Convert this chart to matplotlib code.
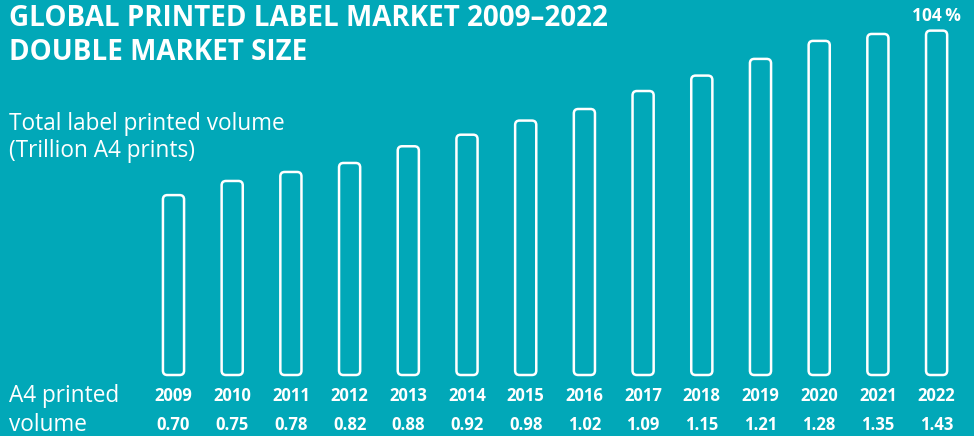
# global printed label market, outlined bars on teal

import matplotlib
matplotlib.use('Agg')
import matplotlib.pyplot as plt
from matplotlib.patches import FancyBboxPatch

years = ['2009', '2010', '2011', '2012', '2013', '2014', '2015',
         '2016', '2017', '2018', '2019', '2020', '2021', '2022']
volume = [0.70, 0.75, 0.78, 0.82, 0.88, 0.92, 0.98,
          1.02, 1.09, 1.15, 1.21, 1.28, 1.35, 1.43]
# bar heights as drawn in the picture (last bars are squeezed under the title)
drawn = [0.70, 0.755, 0.79, 0.825, 0.89, 0.935, 0.99,
         1.035, 1.105, 1.165, 1.23, 1.30, 1.327, 1.34]
growth_label = '104\u2009%'

bg = '#01a8b8'
fg = 'white'
W, H = 974, 436

fig = plt.figure(figsize=(W / 100, H / 100), dpi=100, facecolor=bg)

# axes placed so bar centres / baseline land where the reference has them
x0, step = 173.5, 58.7
base_px, px_per_unit = 375, 257
left = x0 - step / 2
ax = fig.add_axes([left / W, (H - base_px) / H, (14 * step) / W, 1.45 * px_per_unit / H])
ax.set_facecolor(bg)
ax.set_xlim(-0.5, 13.5)
ax.set_ylim(0, 1.45)
ax.axis('off')

bars = ax.bar(range(len(years)), drawn, width=0.36, fill=False)
aspect = (1 / px_per_unit) / (1 / step)
for b in bars:
    x, y = b.get_x(), b.get_y()
    w, h = b.get_width(), b.get_height()
    b.remove()
    ax.add_patch(FancyBboxPatch((x, y), w, h,
                                boxstyle='round,pad=0,rounding_size=0.075',
                                mutation_aspect=aspect, fill=False,
                                edgecolor=fg, linewidth=1.8, clip_on=False))

ax.annotate(growth_label, (13, drawn[-1]), xytext=(0, 4), textcoords='offset points',
            ha='center', va='bottom', color=fg, fontsize=12.5,
            fontweight='bold', family='Open Sans')

# year and value rows under the bars
for i, (yr, v) in enumerate(zip(years, volume)):
    xp = (x0 + i * step) / W
    fig.text(xp, 1 - 396 / H, yr, ha='center', va='center', color=fg,
             fontsize=12, fontweight='bold', family='Open Sans')
    fig.text(xp, 1 - 425 / H, '%.2f' % v, ha='center', va='center', color=fg,
             fontsize=12, fontweight='bold', family='Open Sans')

fig.text(9 / W, 1 - 18 / H, 'GLOBAL PRINTED LABEL MARKET 2009\u20132022',
         ha='left', va='center', color=fg, fontsize=20, fontweight='bold',
         family='Open Sans')
fig.text(9 / W, 1 - 52 / H, 'DOUBLE MARKET SIZE',
         ha='left', va='center', color=fg, fontsize=20, fontweight='bold',
         family='Open Sans')

fig.text(9 / W, 1 - 124 / H, 'Total label printed volume', ha='left', va='center',
         color=fg, fontsize=16.3, family='Open Sans')
fig.text(9 / W, 1 - 151 / H, '(Trillion A4 prints)', ha='left', va='center',
         color=fg, fontsize=16.3, family='Open Sans')
fig.text(9 / W, 1 - 396 / H, 'A4 printed', ha='left', va='center',
         color=fg, fontsize=16.3, family='Open Sans')
fig.text(9 / W, 1 - 425 / H, 'volume', ha='left', va='center',
         color=fg, fontsize=16.3, family='Open Sans')

fig.savefig('out.png', dpi=100, facecolor=bg)
